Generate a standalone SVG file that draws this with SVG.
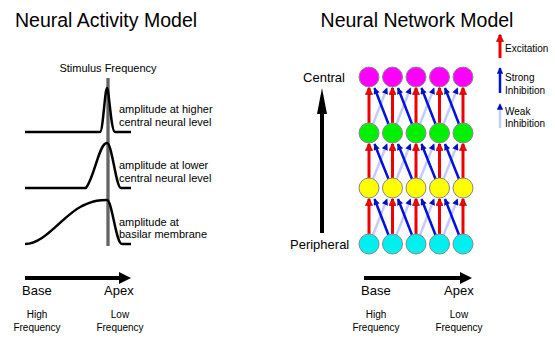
<svg xmlns="http://www.w3.org/2000/svg" width="555" height="337" viewBox="0 0 555 337">
<defs>
<style>
text{font-family:"Liberation Sans","Noto Sans",Arial,sans-serif;fill:#000}
.title{font-size:19.5px}
.lbl{font-size:11px}
.ax{font-size:13px}
.sm{font-size:10px}
.curve{fill:none;stroke:#000;stroke-width:2.5;stroke-linejoin:round}
.exc{stroke:#e00;stroke-width:3;marker-end:url(#mr)}
.str{stroke:#0010e0;stroke-width:2.5;marker-end:url(#mb)}
.wk{stroke:#c4ccff;stroke-width:2.5;marker-end:url(#mb)}
.node circle{stroke:#888;stroke-width:1}
</style>
<marker id="mr" viewBox="0 0 10 10" refX="9" refY="5" markerWidth="2.6" markerHeight="2.4" orient="auto" markerUnits="strokeWidth">
<path d="M0,0 L10,5 L0,10 z" fill="#f00" stroke="#900" stroke-width="0.8"/>
</marker>
<marker id="mb" viewBox="0 0 10 10" refX="9" refY="5" markerWidth="3" markerHeight="2.6" orient="auto" markerUnits="strokeWidth">
<path d="M0,0 L10,5 L0,10 z" fill="#0010c0"/>
</marker>
</defs>
<rect width="555" height="337" fill="#fff"/>

<!-- Left: Neural Activity Model -->
<g id="left-title"><text class="title" x="15" y="27">Neural Activity Model</text></g>
<g id="stimulus">
<text class="lbl" x="108" y="72" text-anchor="middle">Stimulus Frequency</text>
<line x1="108" y1="78" x2="108" y2="246" stroke="#333" stroke-width="3"/>
<line x1="108" y1="78" x2="108" y2="246" stroke="#999" stroke-width="1"/>
</g>
<g id="curve-higher">
<path class="curve" d="M25,132 L100,132 C103,132 105,88 107,88 C109,88 111,132 115,132 L131,132"/>
<text class="lbl" x="119" y="113">amplitude at higher</text>
<text class="lbl" x="119" y="126">central neural level</text>
</g>
<g id="curve-lower">
<path class="curve" d="M25,188 L86,188 C95,176 99,143 107,143 C112,143 116,188 121,188 L131,188"/>
<text class="lbl" x="119" y="169">amplitude at lower</text>
<text class="lbl" x="119" y="182">central neural level</text>
</g>
<g id="curve-basilar">
<path class="curve" d="M25,244 C45,244 62,216 82,206 C95,200 100,200 107,200 C112,200 116,244 122,244 L131,244"/>
<text class="lbl" x="119" y="226">amplitude at</text>
<text class="lbl" x="119" y="238">basilar membrane</text>
</g>
<g id="left-axis">
<line x1="25" y1="278" x2="122" y2="278" stroke="#000" stroke-width="4"/>
<polygon points="119,272 131,278 119,284" fill="#000"/>
<text class="ax" x="22" y="295">Base</text>
<text class="ax" x="104" y="295">Apex</text>
<text class="sm" x="37" y="318" text-anchor="middle">High</text>
<text class="sm" x="37" y="331" text-anchor="middle">Frequency</text>
<text class="sm" x="120" y="318" text-anchor="middle">Low</text>
<text class="sm" x="120" y="331" text-anchor="middle">Frequency</text>
</g>

<!-- Right: Neural Network Model -->
<g id="right-title"><text class="title" x="417" y="27" text-anchor="middle">Neural Network Model</text></g>
<g id="vertical-axis">
<text class="ax" x="345" y="82" text-anchor="end">Central</text>
<line x1="322" y1="233" x2="322" y2="110" stroke="#000" stroke-width="4"/>
<polygon points="317,114 322,88 327,114" fill="#000"/>
<text class="ax" x="290" y="249">Peripheral</text>
</g>

<g id="connectors">
<!-- excitation verticals -->
<g>
<line class="exc" x1="369" y1="234" x2="369" y2="199"/>
<line class="exc" x1="392.5" y1="234" x2="392.5" y2="199"/>
<line class="exc" x1="416" y1="234" x2="416" y2="199"/>
<line class="exc" x1="439.5" y1="234" x2="439.5" y2="199"/>
<line class="exc" x1="463" y1="234" x2="463" y2="199"/>
<line class="exc" x1="369" y1="178" x2="369" y2="144"/>
<line class="exc" x1="392.5" y1="178" x2="392.5" y2="144"/>
<line class="exc" x1="416" y1="178" x2="416" y2="144"/>
<line class="exc" x1="439.5" y1="178" x2="439.5" y2="144"/>
<line class="exc" x1="463" y1="178" x2="463" y2="144"/>
<line class="exc" x1="369" y1="123" x2="369" y2="88"/>
<line class="exc" x1="392.5" y1="123" x2="392.5" y2="88"/>
<line class="exc" x1="416" y1="123" x2="416" y2="88"/>
<line class="exc" x1="439.5" y1="123" x2="439.5" y2="88"/>
<line class="exc" x1="463" y1="123" x2="463" y2="88"/>
</g>
<!-- weak inhibition: lower col i to upper col i+1 -->
<g>
<line class="wk" x1="373" y1="235" x2="387" y2="199"/>
<line class="wk" x1="396.5" y1="235" x2="410.5" y2="199"/>
<line class="wk" x1="420" y1="235" x2="434" y2="199"/>
<line class="wk" x1="443.5" y1="235" x2="457.5" y2="199"/>
<line class="wk" x1="373" y1="179" x2="387" y2="144"/>
<line class="wk" x1="396.5" y1="179" x2="410.5" y2="144"/>
<line class="wk" x1="420" y1="179" x2="434" y2="144"/>
<line class="wk" x1="443.5" y1="179" x2="457.5" y2="144"/>
<line class="wk" x1="373" y1="124" x2="387" y2="88"/>
<line class="wk" x1="396.5" y1="124" x2="410.5" y2="88"/>
<line class="wk" x1="420" y1="124" x2="434" y2="88"/>
<line class="wk" x1="443.5" y1="124" x2="457.5" y2="88"/>
</g>
<!-- strong inhibition: lower col i+1 to upper col i -->
<g>
<line class="str" x1="388.5" y1="235" x2="374.5" y2="199"/>
<line class="str" x1="412" y1="235" x2="398" y2="199"/>
<line class="str" x1="435.5" y1="235" x2="421.5" y2="199"/>
<line class="str" x1="459" y1="235" x2="445" y2="199"/>
<line class="str" x1="388.5" y1="179" x2="374.5" y2="144"/>
<line class="str" x1="412" y1="179" x2="398" y2="144"/>
<line class="str" x1="435.5" y1="179" x2="421.5" y2="144"/>
<line class="str" x1="459" y1="179" x2="445" y2="144"/>
<line class="str" x1="388.5" y1="124" x2="374.5" y2="88"/>
<line class="str" x1="412" y1="124" x2="398" y2="88"/>
<line class="str" x1="435.5" y1="124" x2="421.5" y2="88"/>
<line class="str" x1="459" y1="124" x2="445" y2="88"/>
</g>
</g>

<g id="row-central" class="node" fill="#ff00ff">
<circle cx="369" cy="77" r="10"/><circle cx="392.5" cy="77" r="10"/><circle cx="416" cy="77" r="10"/><circle cx="439.5" cy="77" r="10"/><circle cx="463" cy="77" r="10"/>
</g>
<g id="row-green" class="node" fill="#00f000">
<circle cx="369" cy="133" r="10"/><circle cx="392.5" cy="133" r="10"/><circle cx="416" cy="133" r="10"/><circle cx="439.5" cy="133" r="10"/><circle cx="463" cy="133" r="10"/>
</g>
<g id="row-yellow" class="node" fill="#ffff00">
<circle cx="369" cy="188" r="10"/><circle cx="392.5" cy="188" r="10"/><circle cx="416" cy="188" r="10"/><circle cx="439.5" cy="188" r="10"/><circle cx="463" cy="188" r="10"/>
</g>
<g id="row-peripheral" class="node" fill="#00f0f0">
<circle cx="369" cy="244" r="10"/><circle cx="392.5" cy="244" r="10"/><circle cx="416" cy="244" r="10"/><circle cx="439.5" cy="244" r="10"/><circle cx="463" cy="244" r="10"/>
</g>

<g id="right-axis">
<line x1="364" y1="278" x2="462" y2="278" stroke="#000" stroke-width="4"/>
<polygon points="460,272 472,278 460,284" fill="#000"/>
<text class="ax" x="361" y="295">Base</text>
<text class="ax" x="444" y="295">Apex</text>
<text class="sm" x="376" y="318" text-anchor="middle">High</text>
<text class="sm" x="376" y="331" text-anchor="middle">Frequency</text>
<text class="sm" x="459" y="318" text-anchor="middle">Low</text>
<text class="sm" x="459" y="331" text-anchor="middle">Frequency</text>
</g>

<g id="legend">
<line class="exc" x1="500" y1="58" x2="500" y2="35"/>
<text class="sm" x="505" y="52">Excitation</text>
<line class="str" x1="500" y1="93" x2="500" y2="68"/>
<text class="sm" x="505" y="81">Strong</text>
<text class="sm" x="505" y="94">Inhibition</text>
<line class="wk" x1="500" y1="128" x2="500" y2="104"/>
<text class="sm" x="505" y="115">Weak</text>
<text class="sm" x="505" y="127">Inhibition</text>
</g>
</svg>
